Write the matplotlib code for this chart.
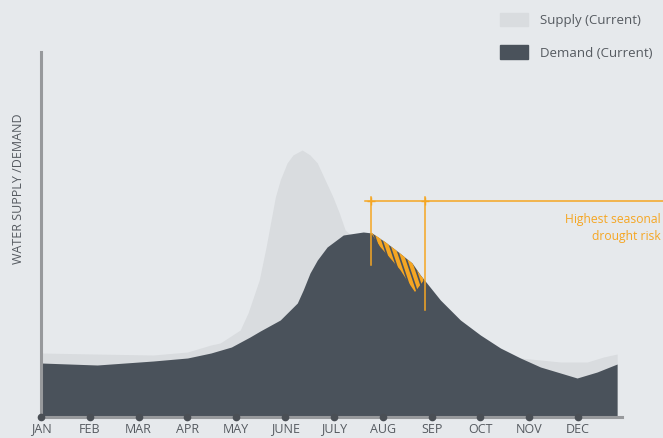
import numpy as np
import matplotlib
matplotlib.use('Agg')
import matplotlib.pyplot as plt
from matplotlib.patches import Patch
from matplotlib.collections import LineCollection

# 数据 (月份位置, 相对水量)
months = ['JAN', 'FEB', 'MAR', 'APR', 'MAY', 'JUNE', 'JULY', 'AUG', 'SEP', 'OCT', 'NOV', 'DEC']

demand_x = [0, 1.15, 2.3, 3.0, 3.48, 3.9, 4.28, 4.49, 4.9, 5.25, 5.37, 5.51, 5.66, 5.86, 6.19,
            6.6, 6.78, 7.05, 7.32, 7.6, 7.77, 8.18, 8.59, 9.0, 9.41, 9.82, 10.23, 10.64,
            10.98, 11.39, 11.8]
demand_y = [54, 52, 56, 59, 64, 70, 80, 86, 97, 114, 127, 144, 157, 170, 182,
            185, 184, 175, 165, 154, 142, 117, 97, 82, 69, 59, 50, 44,
            39, 45, 53]

supply_x = [0, 1.1, 2.3, 3.0, 3.48, 3.67, 4.08, 4.24, 4.47, 4.61, 4.8, 4.9, 5.04, 5.16, 5.35,
            5.51, 5.66, 5.82, 5.98, 6.11, 6.23, 6.5, 6.8, 7.1, 7.4, 7.7, 8.0, 8.5, 9.0,
            9.4, 9.82, 10.23, 10.64, 11.19, 11.52, 11.8]
supply_y = [64, 63, 62, 65, 72, 74, 87, 104, 137, 170, 220, 237, 254, 262, 267,
            262, 254, 237, 220, 204, 187, 175, 168, 156, 140, 122, 108, 90, 74,
            64, 59, 57, 55, 55, 60, 63]

# 干旱风险区 (阴影下边界)
risk_x = [6.76, 6.95, 7.15, 7.36, 7.52, 7.66, 7.83]
risk_low = [184, 170, 159, 147, 135, 125, 136]
risk_start, risk_end = 6.76, 7.87

bg = '#e6e9ec'
supply_c = '#d9dcdf'
demand_c = '#4a525b'
orange = '#f5a623'
text_c = '#555a60'
axis_c = '#97999c'

plt.rcParams['font.family'] = ['Open Sans', 'DejaVu Sans']

fig = plt.figure(figsize=(6.63, 4.38), dpi=100, facecolor=bg)
ax = fig.add_axes([41 / 663, 21 / 438, 581 / 663, 365 / 438])
ax.set_facecolor(bg)
ax.set_xlim(0, 11.9)
ax.set_ylim(0, 365)

ax.fill_between(supply_x, 0, supply_y, color=supply_c, lw=0)
ax.fill_between(demand_x, 0, demand_y, color=demand_c, lw=0)

# 风险区: 上边界沿需求曲线, 下边界为 risk_low
xs = np.union1d(risk_x, [d for d in demand_x if risk_x[0] < d < risk_x[-1]])
top = np.interp(xs, demand_x, demand_y)
low = np.interp(xs, risk_x, risk_low)
poly = ax.fill(np.r_[xs, xs[::-1]], np.r_[top, low[::-1]], facecolor='none', lw=0)[0]

# 斜条纹
px_m = 581 / 11.9  # 每月像素
starts = np.arange(6.0, 8.2, 6.0 / px_m)
segs = [[(s, 240), (s + 40 / px_m, 120)] for s in starts]
stripes = LineCollection(segs, colors=orange, linewidths=2.9)
ax.add_collection(stripes)
stripes.set_clip_path(poly)

# 标注线
ax.plot([6.64, 12.8], [216, 216], color=orange, lw=1.1, clip_on=False)
ax.plot([risk_start, risk_start], [152, 220], color=orange, lw=1.1)
ax.plot([risk_end, risk_end], [107, 220], color=orange, lw=1.1)
ax.plot([risk_start, risk_end], [216, 216], '+', color=orange, ms=6, mew=1)
fig.text(661 / 663, 1 - 228 / 438, 'Highest seasonal\ndrought risk', color=orange,
         fontsize=8.7, ha='right', va='center', linespacing=1.35)

# 坐标轴
for s in ['top', 'right']:
    ax.spines[s].set_visible(False)
ax.spines['left'].set_color(axis_c)
ax.spines['left'].set_linewidth(2.2)
ax.spines['bottom'].set_color(axis_c)
ax.spines['bottom'].set_linewidth(2.2)
ax.plot(range(12), [0] * 12, 'o', color='#4a4f55', ms=4.5, clip_on=False, zorder=5)
ax.set_xticks(range(12))
ax.set_xticklabels(months, fontsize=9, color=text_c)
ax.tick_params(axis='x', length=0, pad=4)
ax.set_yticks([])
ax.set_ylabel('WATER SUPPLY /DEMAND', fontsize=9, color=text_c)
ax.yaxis.set_label_coords(-0.028, 0.625)

handles = [Patch(color=supply_c, label='Supply (Current)'),
           Patch(color=demand_c, label='Demand (Current)')]
fig.legend(handles=handles, loc='upper left', bbox_to_anchor=(500 / 663, 1 - 13 / 438),
           frameon=False, fontsize=9.5, labelcolor=text_c, handlelength=2.1,
           handleheight=1.15, handletextpad=0.9, labelspacing=1.4, borderpad=0,
           borderaxespad=0)

fig.savefig('out.png', dpi=100, facecolor=bg)
